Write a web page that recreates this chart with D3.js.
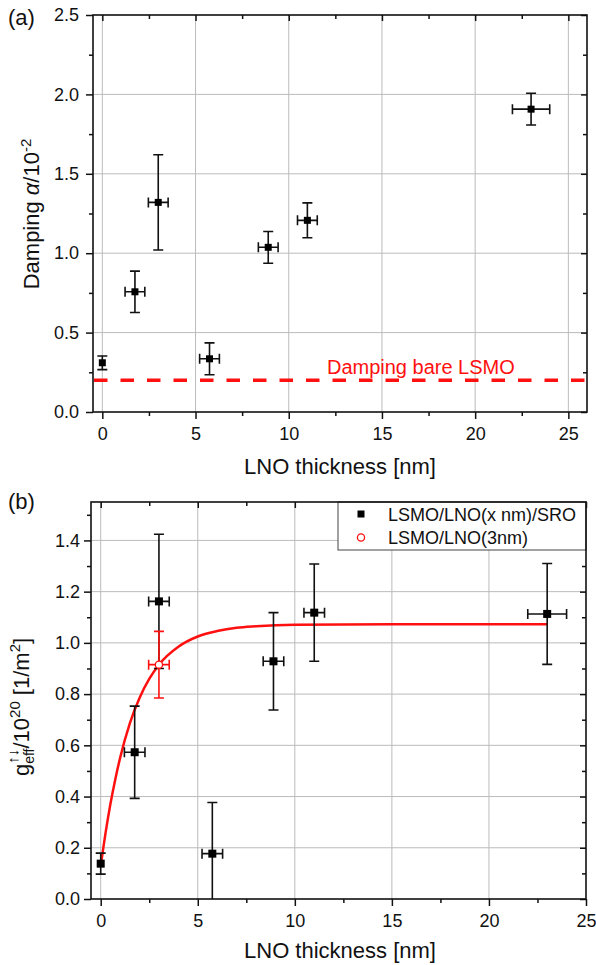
<!DOCTYPE html>
<html>
<head>
<meta charset="utf-8">
<script src="https://cdn.jsdelivr.net/npm/d3@7"></script>
<style>
body { margin: 0; background: #fff; }
text { font-family: "Liberation Sans", Arial, sans-serif; fill: #111; }
.axis text { font-size: 18px; }
.axis line { stroke: #111; stroke-width: 1.5; }
.axis .domain { display: none; }
.grid line { stroke: #bbb; stroke-width: 1; }
.frame { fill: none; stroke: #111; stroke-width: 1.6; }
.err { stroke: #111; stroke-width: 1.6; fill: none; }
</style>
</head>
<body>
<svg id="canvas" width="596" height="965"></svg>
<script>
// LNO thickness (nm) and its error
var thickness = [0, 1.75, 3, 5.75, 8.9, 11, 23];
var thicknessErr = [0, 0.53, 0.53, 0.53, 0.53, 0.53, 1.0];

// (a) damping alpha / 1e-2
var damping = [0.31, 0.757, 1.32, 0.335, 1.037, 1.207, 1.907];
var dampingErr = [0.043, 0.13, 0.30, 0.10, 0.10, 0.11, 0.10];
var dampingBare = 0.2;

// (b) spin mixing conductance / 1e20
var gEff = [0.138, 0.573, 1.162, 0.177, 0.928, 1.118, 1.113];
var gEffErr = [0.041, 0.18, 0.262, 0.20, 0.19, 0.19, 0.197];

// LSMO/LNO(3nm) reference sample
var refX = [3];
var refXErr = [0.53];
var refG = [0.915];
var refGErr = [0.13];

// red guide curve
var fitX = [0, 0.25, 0.5, 0.75, 1, 1.5, 2, 2.5, 3, 4, 5, 6, 7, 8, 10, 15, 23];
var fitG = [0.127, 0.258, 0.371, 0.467, 0.551, 0.686, 0.785, 0.859, 0.915, 0.985, 1.025, 1.046, 1.059, 1.065, 1.071, 1.073, 1.073];

var xTicksA = [0, 5, 10, 15, 20, 25];
var xMinorA = [2.5, 7.5, 12.5, 17.5, 22.5];
var yTicksA = [0, 0.5, 1.0, 1.5, 2.0, 2.5];
var yMinorA = [0.25, 0.75, 1.25, 1.75, 2.25];
var xTicksB = [0, 5, 10, 15, 20, 25];
var xMinorB = [2.5, 7.5, 12.5, 17.5, 22.5];
var yTicksB = [0, 0.2, 0.4, 0.6, 0.8, 1.0, 1.2, 1.4];
var yMinorB = [0.1, 0.3, 0.5, 0.7, 0.9, 1.1, 1.3, 1.5];

var svg = d3.select("#canvas");

var xA = d3.scaleLinear().domain([-0.5, 26]).range([93, 587]);
var yA = d3.scaleLinear().domain([0, 2.5]).range([412, 15]);
var xB = d3.scaleLinear().domain([-0.5, 25]).range([91, 586]);
var yB = d3.scaleLinear().domain([0, 1.55]).range([899, 502]);

function frame(x, y, xt, xm, yt, ym, ypad, id) {
  var x0 = x.range()[0], x1 = x.range()[1];
  var y0 = y.range()[0], y1 = y.range()[1];

  svg.append("defs").append("clipPath").attr("id", id)
  .append("rect")
  .attr("x", x0).attr("y", y1)
  .attr("width", x1 - x0).attr("height", y0 - y1);

  var grid = svg.append("g").attr("class", "grid");
  grid.selectAll(".gx")
  .data(xt.filter(function(d) { return x(d) > x0 + 1 && x(d) < x1 - 1; }))
  .enter().append("line")
  .attr("x1", function(d) { return x(d); })
  .attr("x2", function(d) { return x(d); })
  .attr("y1", y0).attr("y2", y1);
  grid.selectAll(".gy")
  .data(yt.filter(function(d) { return y(d) < y0 - 1 && y(d) > y1 + 1; }))
  .enter().append("line")
  .attr("y1", function(d) { return y(d); })
  .attr("y2", function(d) { return y(d); })
  .attr("x1", x0).attr("x2", x1);

  // bottom / left: outward ticks with labels
  svg.append("g").attr("class", "axis")
  .attr("transform", "translate(0," + y0 + ")")
  .call(d3.axisBottom(x).tickValues(xt).tickSize(7).tickPadding(8.5).tickFormat(d3.format("d")));
  svg.append("g").attr("class", "axis")
  .attr("transform", "translate(0," + y0 + ")")
  .call(d3.axisBottom(x).tickValues(xm).tickSize(4).tickFormat(""));
  svg.append("g").attr("class", "axis")
  .attr("transform", "translate(" + x0 + ",0)")
  .call(d3.axisLeft(y).tickValues(yt).tickSize(7).tickPadding(ypad).tickFormat(d3.format(".1f")));
  svg.append("g").attr("class", "axis")
  .attr("transform", "translate(" + x0 + ",0)")
  .call(d3.axisLeft(y).tickValues(ym).tickSize(4).tickFormat(""));

  // top / right: mirrored inward ticks
  svg.append("g").attr("class", "axis")
  .attr("transform", "translate(0," + y1 + ")")
  .call(d3.axisTop(x).tickValues(xt).tickSize(-6).tickFormat(""));
  svg.append("g").attr("class", "axis")
  .attr("transform", "translate(0," + y1 + ")")
  .call(d3.axisTop(x).tickValues(xm).tickSize(-4).tickFormat(""));
  svg.append("g").attr("class", "axis")
  .attr("transform", "translate(" + x1 + ",0)")
  .call(d3.axisRight(y).tickValues(yt).tickSize(-6).tickFormat(""));
  svg.append("g").attr("class", "axis")
  .attr("transform", "translate(" + x1 + ",0)")
  .call(d3.axisRight(y).tickValues(ym).tickSize(-4).tickFormat(""));
}

function errorBars(g, x, y, xs, xe, ys, ye, color, cap) {
  var pts = xs.map(function(d, i) { return {x: d, xe: xe[i], y: ys[i], ye: ye[i]}; });
  var eg = g.selectAll(".eb").data(pts).enter().append("g")
  .attr("class", "err").style("stroke", color);
  eg.append("path")
  .attr("d", function(d) {
    var cx = x(d.x), t = y(d.y + d.ye), b = y(d.y - d.ye);
    return "M" + cx + "," + t + "V" + b +
      "M" + (cx - cap) + "," + t + "H" + (cx + cap) +
      "M" + (cx - cap) + "," + b + "H" + (cx + cap);
  });
  eg.filter(function(d) { return d.xe > 0; }).append("path")
  .attr("d", function(d) {
    var cy = y(d.y), l = x(d.x - d.xe), r = x(d.x + d.xe);
    return "M" + l + "," + cy + "H" + r +
      "M" + l + "," + (cy - cap) + "V" + (cy + cap) +
      "M" + r + "," + (cy - cap) + "V" + (cy + cap);
  });
}

// ---------- panel (a) ----------
frame(xA, yA, xTicksA, xMinorA, yTicksA, yMinorA, 7, "clipA");

svg.append("line")
.attr("x1", xA.range()[0] + 1).attr("x2", xA.range()[1])
.attr("y1", yA(dampingBare)).attr("y2", yA(dampingBare))
.attr("stroke", "#ff1010").attr("stroke-width", 3.5)
.attr("stroke-dasharray", "13.5,13");

svg.append("text")
.attr("x", xA(12.05)).attr("y", yA(dampingBare) - 6.5)
.style("fill", "#ff1010").style("font-size", "20px")
.text("Damping bare LSMO");

var gA = svg.append("g").attr("clip-path", "url(#clipA)");
errorBars(gA, xA, yA, thickness, thicknessErr, damping, dampingErr, "#111", 5);
gA.selectAll(".sq").data(thickness).enter().append("rect")
.attr("x", function(d) { return xA(d) - 3.5; })
.attr("y", function(d, i) { return yA(damping[i]) - 3.5; })
.attr("width", 7).attr("height", 7).attr("fill", "#000");

svg.append("rect").attr("class", "frame")
.attr("x", 93).attr("y", 15).attr("width", 587 - 93).attr("height", 412 - 15);

svg.append("text").attr("x", 8).attr("y", 25).style("font-size", "22px").text("(a)");

svg.append("text")
.attr("x", 340).attr("y", 474)
.attr("text-anchor", "middle").style("font-size", "22px")
.text("LNO thickness [nm]");

var ylA = svg.append("text")
.attr("transform", "translate(39,214) rotate(-90)")
.attr("text-anchor", "middle").style("font-size", "22px");
ylA.append("tspan").text("Damping ");
ylA.append("tspan").style("font-style", "italic").text("α");
ylA.append("tspan").text("/10");
ylA.append("tspan").attr("dy", -8).style("font-size", "15px").text("-2");

// ---------- panel (b) ----------
frame(xB, yB, xTicksB, xMinorB, yTicksB, yMinorB, 4, "clipB");

var gB = svg.append("g").attr("clip-path", "url(#clipB)");

gB.append("path")
.datum(fitX.map(function(d, i) { return [d, fitG[i]]; }))
.attr("fill", "none").attr("stroke", "#ff1010").attr("stroke-width", 2.5)
.attr("d", d3.line()
  .x(function(d) { return xB(d[0]); })
  .y(function(d) { return yB(d[1]); })
  .curve(d3.curveMonotoneX));

errorBars(gB, xB, yB, thickness, thicknessErr, gEff, gEffErr, "#111", 5);
gB.selectAll(".sq").data(thickness).enter().append("rect")
.attr("x", function(d) { return xB(d) - 4; })
.attr("y", function(d, i) { return yB(gEff[i]) - 4; })
.attr("width", 8).attr("height", 8).attr("fill", "#000");

var gR = gB.append("g");
errorBars(gR, xB, yB, refX, refXErr, refG, refGErr, "#ff1010", 5);
gR.selectAll(".ci").data(refX).enter().append("circle")
.attr("cx", function(d) { return xB(d); })
.attr("cy", function(d, i) { return yB(refG[i]); })
.attr("r", 3.6).attr("fill", "#fff").attr("stroke", "#ff1010").attr("stroke-width", 1.3);

// legend
var lg = svg.append("g");
lg.append("rect")
.attr("x", 338).attr("y", 502).attr("width", 586 - 338).attr("height", 48)
.attr("fill", "#fff").attr("stroke", "#444").attr("stroke-width", 1);
lg.append("rect").attr("x", 357.5).attr("y", 510.5).attr("width", 7).attr("height", 7).attr("fill", "#000");
lg.append("circle").attr("cx", 361).attr("cy", 537.5).attr("r", 3.6)
.attr("fill", "none").attr("stroke", "#ff1010").attr("stroke-width", 1.3);
lg.append("text").attr("x", 388).attr("y", 520.5).style("font-size", "18px").text("LSMO/LNO(x nm)/SRO");
lg.append("text").attr("x", 388).attr("y", 544).style("font-size", "18px").text("LSMO/LNO(3nm)");

svg.append("rect").attr("class", "frame")
.attr("x", 91).attr("y", 502).attr("width", 586 - 91).attr("height", 899 - 502);

svg.append("text").attr("x", 8).attr("y", 509).style("font-size", "22px").text("(b)");

svg.append("text")
.attr("x", 340).attr("y", 958)
.attr("text-anchor", "middle").style("font-size", "22px")
.text("LNO thickness [nm]");

// y label of (b): arrows stacked above the "eff" subscript
var ylB = svg.append("text")
.attr("transform", "translate(29,707) rotate(-90)")
.attr("text-anchor", "middle").style("font-size", "22px");
ylB.append("tspan").text("g");
var effSpan = ylB.append("tspan").attr("dy", 5).style("font-size", "14px").text("eff");
var arrSpan = ylB.append("tspan").attr("dy", -16).style("font-size", "15px").text("↑↓");
var afterSpan = ylB.append("tspan").attr("dy", 11).text("/10");
ylB.append("tspan").attr("dy", -9).style("font-size", "15px").text("20");
ylB.append("tspan").attr("dy", 9).text(" [1/m");
ylB.append("tspan").attr("dy", -9).style("font-size", "15px").text("2");
ylB.append("tspan").attr("dy", 9).text("]");

var effW = effSpan.node().getComputedTextLength();
var arrW = arrSpan.node().getComputedTextLength();
arrSpan.attr("dx", -(effW + arrW) / 2);
afterSpan.attr("dx", (effW - arrW) / 2);
</script>
</body>
</html>
